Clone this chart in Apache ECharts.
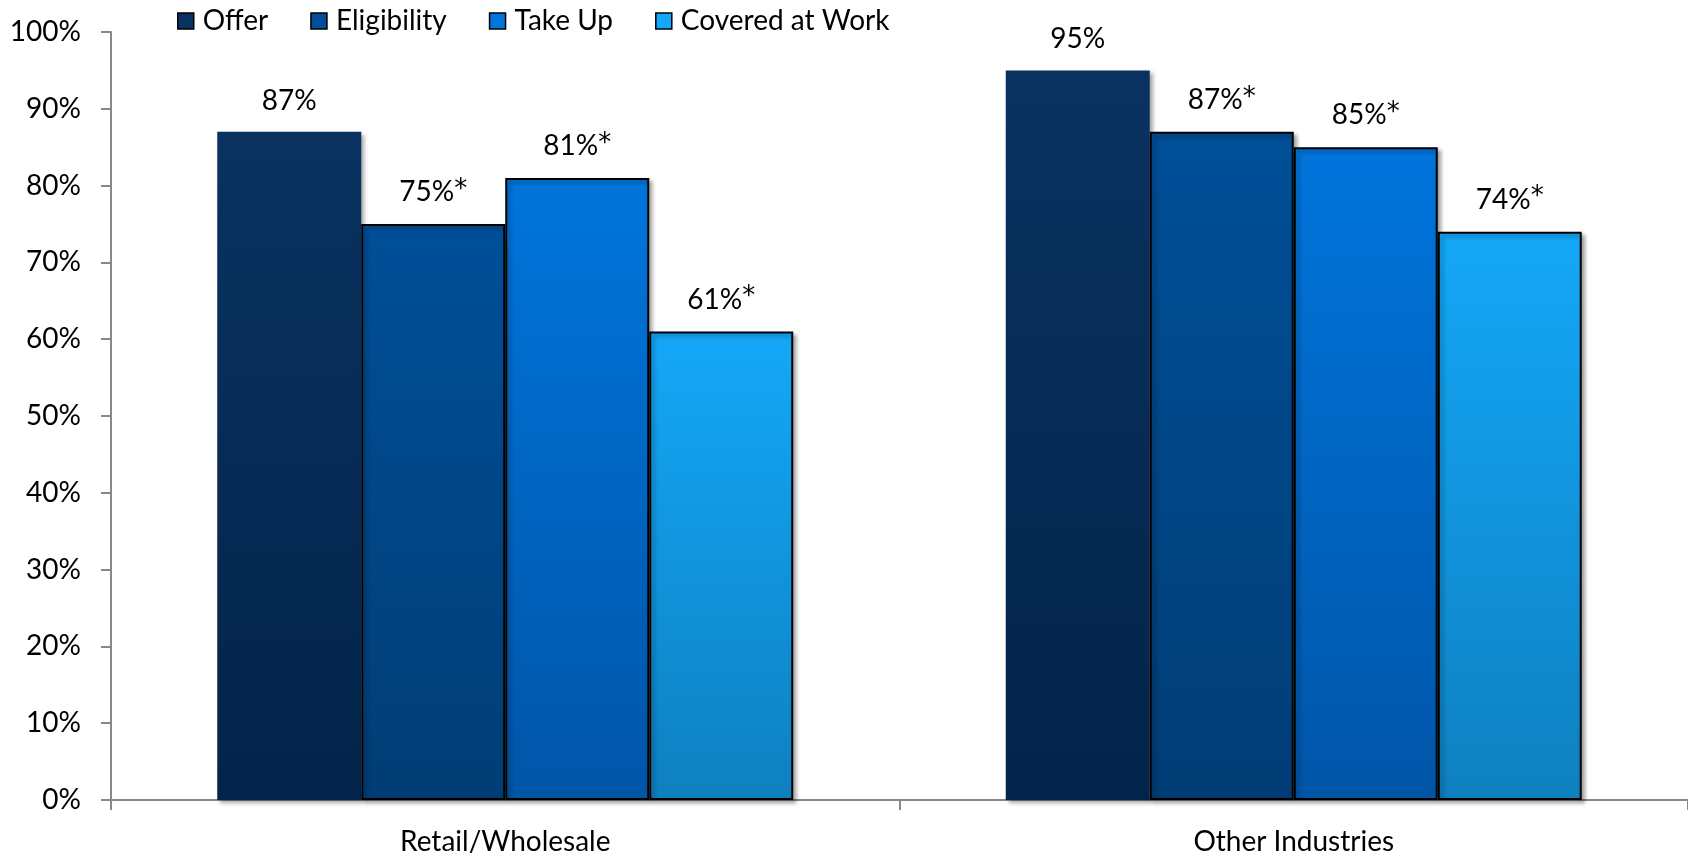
<!DOCTYPE html>
<html>
<head>
<meta charset="utf-8">
<style>
html,body{margin:0;padding:0;background:#fff;}
#chart{width:1688px;height:856px;}
</style>
<script src="https://cdn.jsdelivr.net/npm/echarts@6/dist/echarts.min.js"></script>
</head>
<body>
<div id="chart"></div>
<script>
const categories = ['Retail/Wholesale', 'Other Industries'];
const seriesNames = ['Offer', 'Eligibility', 'Take Up', 'Covered at Work'];
const offer = [87, 95];
const eligibility = [75, 87];
const takeUp = [81, 85];
const coveredAtWork = [61, 74];
const offerMarks = ['', ''];
const eligibilityMarks = ['*', '*'];
const takeUpMarks = ['*', '*'];
const coveredMarks = ['*', '*'];
const yTicks = [0, 10, 20, 30, 40, 50, 60, 70, 80, 90, 100];

const topColors = ['#0a3260', '#004f98', '#0075dc', '#14a8f8'];
const bottomColors = ['#03244a', '#013d75', '#0055a8', '#0e80c0'];
const borders = [0, 2, 2, 2];
const values = [offer, eligibility, takeUp, coveredAtWork];
const marks = [offerMarks, eligibilityMarks, takeUpMarks, coveredMarks];
const FONT = 'Lato';

const chart = echarts.init(document.getElementById('chart'));
const series = seriesNames.map((name, i) => ({
  name: name,
  type: 'bar',
  barWidth: 144,
  barGap: '0%',
  data: values[i],
  itemStyle: {
    color: {type: 'linear', x: 0, y: 0, x2: 0, y2: 1, colorStops: [
      {offset: 0, color: topColors[i]}, {offset: 1, color: bottomColors[i]}]},
    borderColor: '#000',
    borderWidth: borders[i],
    shadowColor: 'rgba(0,0,0,0.35)',
    shadowBlur: 4,
    shadowOffsetX: 3,
    shadowOffsetY: 3
  },
  label: {
    show: true,
    position: 'top',
    distance: 17,
    fontFamily: FONT,
    fontSize: 28,
    color: '#000',
    formatter: p => p.value + '%' + (marks[i][p.dataIndex] ? '{s|' + marks[i][p.dataIndex] + '}' : ''),
    rich: {
      s: {fontFamily: 'DejaVu Sans', fontSize: 26, color: '#000', verticalAlign: 'top', padding: [0, 0, 4, 0]}
    }
  }
}));

chart.setOption({
  animation: false,
  legend: {
    data: seriesNames.map((n, i) => ({
      name: n,
      itemStyle: {color: topColors[i], borderColor: '#000', borderWidth: 1.5}
    })),
    left: 177,
    top: 7,
    padding: 0,
    icon: 'rect',
    itemWidth: 16,
    itemHeight: 16,
    itemGap: 42,
    textStyle: {fontFamily: FONT, fontSize: 28, color: '#000', padding: [0, 0, 0, 4]}
  },
  grid: {left: 111, right: 0, top: 32, bottom: 56, containLabel: false},
  xAxis: {
    type: 'category',
    data: categories,
    axisLine: {lineStyle: {color: '#888', width: 2}},
    axisTick: {show: true, length: 10, lineStyle: {color: '#888', width: 2}},
    axisLabel: {fontFamily: FONT, fontSize: 28, color: '#000', margin: 28}
  },
  yAxis: {
    type: 'value',
    min: 0,
    max: 100,
    interval: 10,
    axisLine: {show: true, lineStyle: {color: '#888', width: 2}},
    axisTick: {show: true, length: 10, lineStyle: {color: '#888', width: 2}},
    splitLine: {show: false},
    axisLabel: {
      fontFamily: FONT, fontSize: 28, color: '#000', margin: 30,
      formatter: v => yTicks.includes(v) ? v + '%' : ''
    }
  },
  series: series
});
</script>
</body>
</html>
